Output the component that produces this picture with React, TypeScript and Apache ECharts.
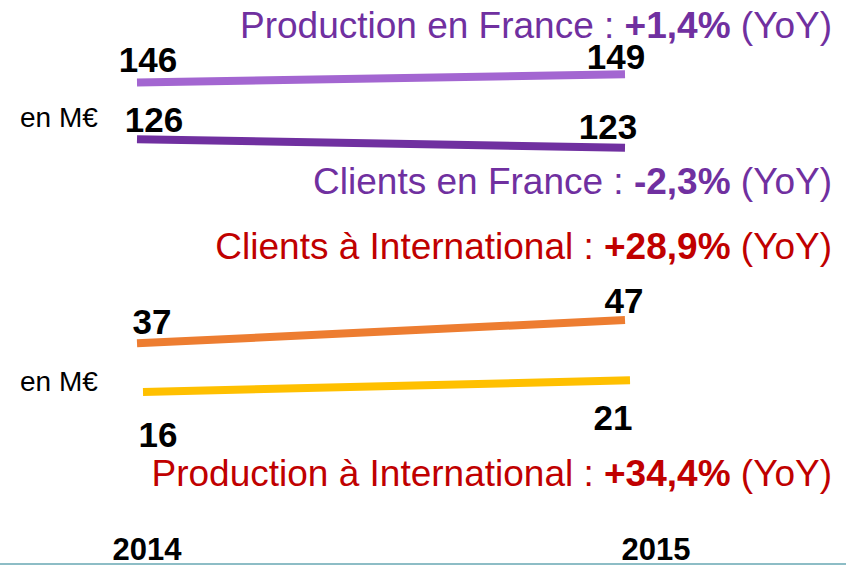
import React, { useEffect, useRef } from "react";
import * as echarts from "echarts";

const years = ["2014", "2015"];
const productionFrance = [146, 149];
const clientsFrance = [126, 123];
const clientsInternational = [37, 47];
const productionInternational = [16, 21];

const FONT = "'Liberation Sans', Arial, sans-serif";

function pts(values: number[], labels: any[]) {
  return values.map((v, i) => ({ value: v, label: labels[i] }));
}

function lbl(position: string, offset: number[]) {
  return {
    show: true,
    position,
    offset,
    color: "#000",
    opacity: 1,
    fontFamily: FONT,
    fontWeight: "bold",
    fontSize: 35,
    lineHeight: 28,
  };
}

export default function App() {
  const ref = useRef<HTMLDivElement>(null);
  useEffect(() => {
    if (!ref.current) return;
    const chart = echarts.init(ref.current, undefined, { renderer: "svg" });
    const hiddenY = (gridIndex: number, min: number, max: number) => ({
      type: "value",
      gridIndex,
      min,
      max,
      show: false,
      splitLine: { show: false },
    });
    const hiddenX = (gridIndex: number) => ({
      type: "category",
      gridIndex,
      data: years,
      boundaryGap: false,
      show: false,
    });
    const titleStyle = (color: string) => ({
      n: { fontFamily: FONT, fontSize: 37, lineHeight: 33, fill: color, color },
      b: {
        fontFamily: FONT,
        fontSize: 37,
        lineHeight: 33,
        fontWeight: "bold",
        fill: color,
        color,
      },
    });
    const title = (y: number, a: string, b: string, color: string) => ({
      type: "text",
      x: 832,
      y,
      style: {
        text: `{n|${a}}{b|${b}}{n| (YoY)}`,
        align: "right",
        verticalAlign: "middle",
        fill: color,
        font: `37px ${FONT}`,
        lineHeight: 33,
        rich: titleStyle(color),
      },
    });
    const unit = (y: number) => ({
      type: "text",
      x: 20,
      y,
      style: {
        text: "en M€",
        align: "left",
        verticalAlign: "middle",
        fill: "#000",
        font: `28px ${FONT}`,
      },
    });
    const line = (
      name: string,
      idx: number,
      color: string,
      values: number[],
      labels: any[]
    ) => ({
      name,
      type: "line",
      xAxisIndex: idx,
      yAxisIndex: idx,
      symbol: "circle",
      symbolSize: 1,
      showSymbol: true,
      itemStyle: { color: "rgba(0,0,0,0)", borderWidth: 0 },
      lineStyle: { color, width: 8, cap: "butt" },
      label: { show: true },
      data: pts(values, labels),
    });
    chart.setOption({
      animation: false,
      backgroundColor: "#fff",
      grid: [
        { left: 137, right: 221, top: 43, height: 141.5 },
        { left: 137, right: 221, top: 290, height: 139 },
        { left: 143, right: 216, top: 290, height: 139 },
        { left: 147, right: 190, top: 450, height: 80 },
      ],
      xAxis: [
        hiddenX(0),
        hiddenX(1),
        hiddenX(2),
        {
          type: "category",
          gridIndex: 3,
          data: years,
          boundaryGap: false,
          axisLine: { show: false },
          axisTick: { show: false },
          axisLabel: {
            margin: 6,
            lineHeight: 26,
            color: "#000",
            fontFamily: FONT,
            fontWeight: "bold",
            fontSize: 31,
          },
        },
      ],
      yAxis: [
        hiddenY(0, 110, 160),
        hiddenY(1, 0, 60),
        hiddenY(2, 0, 60),
        hiddenY(3, 0, 1),
      ],
      series: [
        line("Production en France", 0, "#A366D1", productionFrance, [
          lbl("top", [11, -3.5]),
          lbl("top", [-9, 1.5]),
        ]),
        line("Clients en France", 0, "#7030A0", clientsFrance, [
          lbl("top", [17, -0.5]),
          lbl("top", [-17, -1.5]),
        ]),
        line("Clients à International", 1, "#ED7D31", clientsInternational, [
          lbl("top", [15, -2.5]),
          lbl("top", [-1, -0.5]),
        ]),
        line("Production à International", 2, "#FFC000", productionInternational, [
          lbl("bottom", [15, 23.5]),
          lbl("bottom", [-17, 17.5]),
        ]),
      ],
      graphic: [
        title(25, "Production en France : ", "+1,4%", "#7030A0"),
        title(181, "Clients en France : ", "-2,3%", "#7030A0"),
        title(246, "Clients à International : ", "+28,9%", "#C00000"),
        title(473, "Production à International : ", "+34,4%", "#C00000"),
        unit(117),
        unit(381),
        {
          type: "line",
          shape: { x1: 0, y1: 564, x2: 846, y2: 564 },
          style: { stroke: "#8DBDC6", lineWidth: 2 },
        },
      ],
    });
    return () => chart.dispose();
  }, []);
  return (
    <div
      ref={ref}
      style={{ position: "fixed", left: 0, top: 0, width: 846, height: 565 }}
    />
  );
}
